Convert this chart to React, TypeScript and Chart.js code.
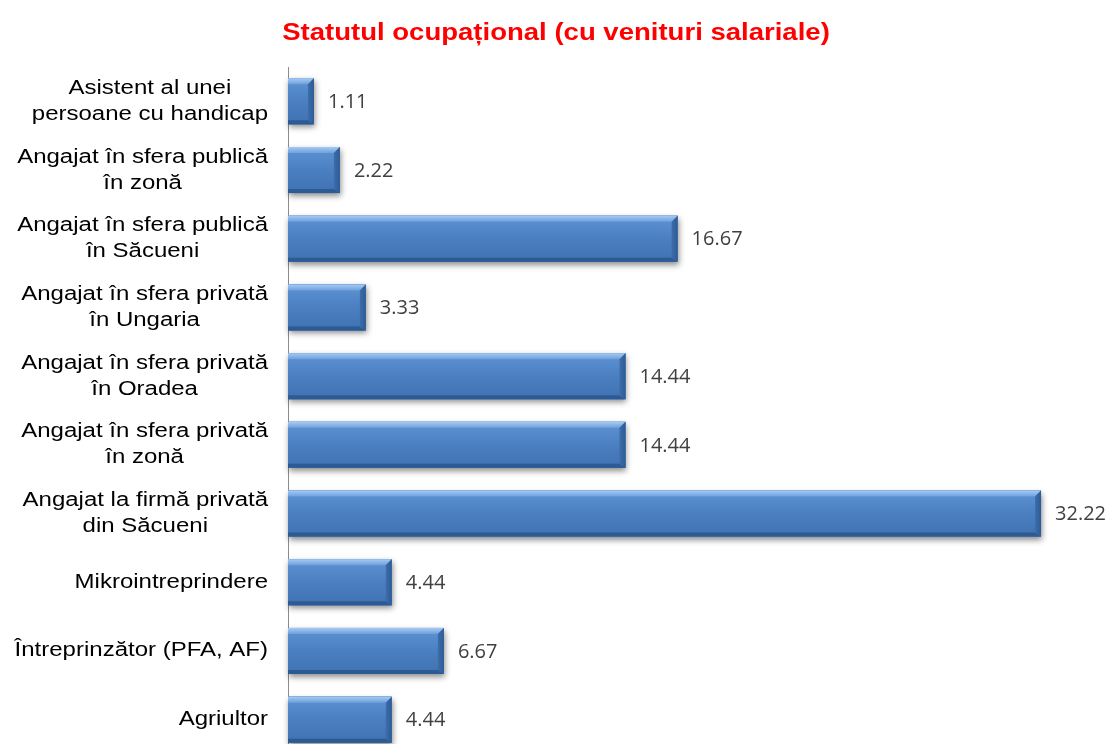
import React, { useEffect, useRef } from "react";
import { Chart, registerables } from "chart.js";

Chart.register(...registerables);

const TITLE = "Statutul ocupațional (cu venituri salariale)";

const categories: string[][] = [
  ["Asistent al unei", "persoane cu handicap"],
  ["Angajat în sfera publică", "în zonă"],
  ["Angajat în sfera publică", "în Săcueni"],
  ["Angajat în sfera privată", "în Ungaria"],
  ["Angajat în sfera privată", "în Oradea"],
  ["Angajat în sfera privată", "în zonă"],
  ["Angajat la firmă privată", "din Săcueni"],
  ["Mikrointreprindere"],
  ["Întreprinzător (PFA, AF)"],
  ["Agriultor"],
];

const values: number[] = [1.11, 2.22, 16.67, 3.33, 14.44, 14.44, 32.22, 4.44, 6.67, 4.44];

const valueLabels: string[] = values.map((v) => v.toFixed(2));

const W = 1112;
const H = 760;

const barStylePlugin = {
  id: "barStyle",
  beforeDatasetsDraw(chart: any) {
    const ctx = chart.ctx;
    const meta = chart.getDatasetMeta(0);
    ctx.save();
    meta.data.forEach((el: any) => {
      const left = Math.min(el.base, el.x);
      const right = Math.max(el.base, el.x);
      const top = el.y - el.height / 2;
      ctx.shadowColor = "rgba(0,0,0,0.45)";
      ctx.shadowBlur = 6;
      ctx.shadowOffsetX = 1;
      ctx.shadowOffsetY = 3;
      ctx.fillStyle = "#4a7ebb";
      ctx.fillRect(left, top, right - left, el.height);
    });
    ctx.restore();
  },
  afterDatasetsDraw(chart: any) {
    const ctx = chart.ctx;
    const meta = chart.getDatasetMeta(0);
    const b = 6;
    ctx.save();
    meta.data.forEach((el: any, i: number) => {
      const left = Math.min(el.base, el.x);
      const right = Math.max(el.base, el.x);
      const top = el.y - el.height / 2;
      const bottom = el.y + el.height / 2;
      const bb = Math.min(b, (right - left) / 2);
      // body gradient
      const g = ctx.createLinearGradient(0, top, 0, bottom);
      g.addColorStop(0, "#5e93d4");
      g.addColorStop(0.5, "#4a7fc1");
      g.addColorStop(1, "#3f72b2");
      ctx.fillStyle = g;
      ctx.fillRect(left, top, right - left, bottom - top);
      // top bevel
      const gt = ctx.createLinearGradient(0, top, 0, top + bb);
      gt.addColorStop(0, "#a6cbf3");
      gt.addColorStop(1, "#6f9fdc");
      ctx.fillStyle = gt;
      ctx.beginPath();
      ctx.moveTo(left, top);
      ctx.lineTo(right, top);
      ctx.lineTo(right - bb, top + bb);
      ctx.lineTo(left, top + bb);
      ctx.closePath();
      ctx.fill();
      // bottom bevel
      ctx.fillStyle = "#2d5a92";
      ctx.beginPath();
      ctx.moveTo(left, bottom);
      ctx.lineTo(right, bottom);
      ctx.lineTo(right - bb, bottom - bb + 2);
      ctx.lineTo(left, bottom - bb + 2);
      ctx.closePath();
      ctx.fill();
      // right bevel
      const gr = ctx.createLinearGradient(right - bb, 0, right, 0);
      gr.addColorStop(0, "#3d6dab");
      gr.addColorStop(1, "#2e5b94");
      ctx.fillStyle = gr;
      ctx.beginPath();
      ctx.moveTo(right, top);
      ctx.lineTo(right, bottom);
      ctx.lineTo(right - bb, bottom - bb + 2);
      ctx.lineTo(right - bb, top + bb);
      ctx.closePath();
      ctx.fill();

      // value label
      ctx.fillStyle = "#404040";
      ctx.font = '20px "Open Sans", sans-serif';
      ctx.textAlign = "left";
      ctx.textBaseline = "middle";
      ctx.fillText(valueLabels[i], right + 14, el.y + 1);
    });
    ctx.restore();
  },
  afterDraw(chart: any) {
    const ctx = chart.ctx;
    const yScale = chart.scales.y;
    const sx = 1.2;
    ctx.save();
    ctx.fillStyle = "#000000";
    ctx.font = '20px "Liberation Sans", Arial, sans-serif';
    ctx.textAlign = "center";
    ctx.textBaseline = "middle";
    const rightEdge = chart.chartArea.left - 20;
    categories.forEach((lines, i) => {
      const yc = yScale.getPixelForValue(i);
      const maxW = Math.max(...lines.map((l) => ctx.measureText(l).width)) * sx;
      const cx = rightEdge - maxW / 2;
      const lh = 26;
      lines.forEach((line, j) => {
        const y = yc + (j - (lines.length - 1) / 2) * lh;
        ctx.save();
        ctx.translate(cx, y);
        ctx.scale(sx, 1);
        ctx.fillText(line, 0, 0);
        ctx.restore();
      });
    });
    // title
    ctx.fillStyle = "#ff0000";
    ctx.font = 'bold 24px "Liberation Sans", Arial, sans-serif';
    ctx.textAlign = "center";
    ctx.textBaseline = "alphabetic";
    ctx.save();
    ctx.translate(W / 2, 39.5);
    ctx.scale(1.147, 1);
    ctx.fillText(TITLE, 0, 0);
    ctx.restore();
    ctx.restore();
  },
};

export default function App() {
  const ref = useRef<HTMLCanvasElement | null>(null);
  useEffect(() => {
    if (!ref.current) return;
    const chart = new Chart(ref.current, {
      type: "bar",
      data: {
        labels: categories,
        datasets: [
          {
            data: values,
            backgroundColor: "#4a7ebb",
            borderWidth: 0,
            barPercentage: 0.67,
            categoryPercentage: 1,
          },
        ],
      },
      options: {
        indexAxis: "y",
        responsive: false,
        animation: false,
        layout: { padding: { top: 67, bottom: 6, left: 0, right: 6 } },
        plugins: {
          legend: { display: false },
          tooltip: { enabled: false },
          title: { display: false },
        },
        scales: {
          x: { display: false, min: 0, max: 35 },
          y: {
            grid: { display: false },
            ticks: { display: false },
            border: { display: true, color: "#8c8c8c", width: 1 },
            afterFit: (s: any) => {
              s.width = 288;
            },
          },
        },
      },
      plugins: [barStylePlugin],
    });
    return () => chart.destroy();
  }, []);
  return (
    <div
      style={{
        position: "fixed",
        top: 0,
        left: 0,
        width: W,
        height: 744,
        overflow: "hidden",
        background: "#ffffff",
      }}
    >
      <canvas ref={ref} width={W} height={H} style={{ display: "block" }} />
    </div>
  );
}
